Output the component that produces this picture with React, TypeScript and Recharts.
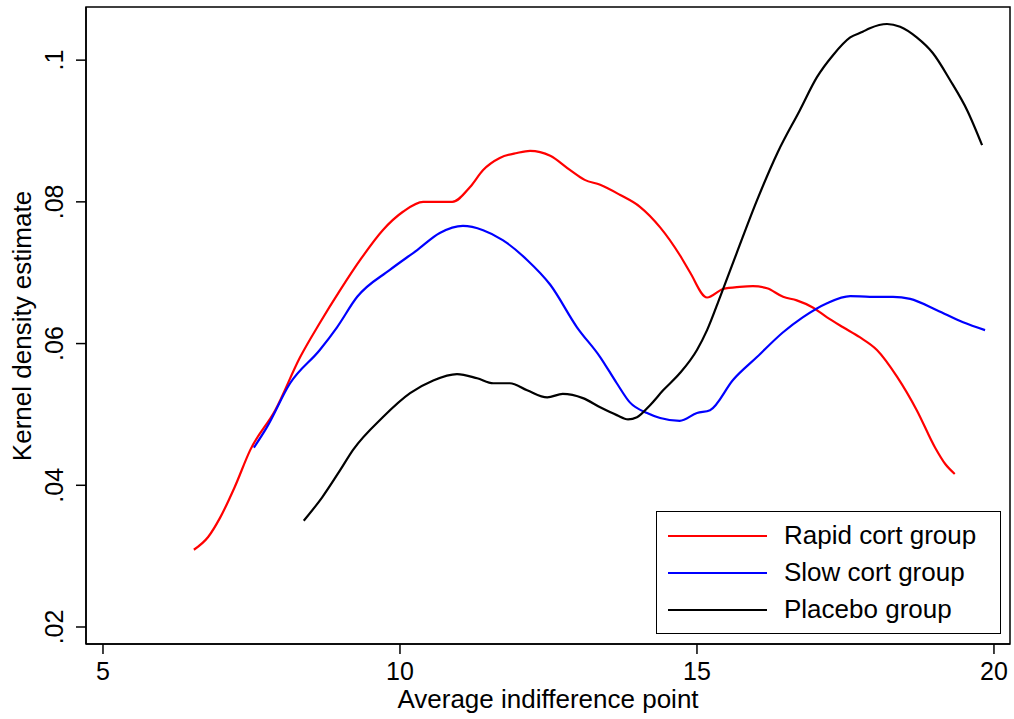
import React from 'react';
import { LineChart, Line, XAxis, YAxis, ReferenceArea } from 'recharts';

// Kernel density estimates
const rapidX = [6.53, 6.77, 6.97, 7.22, 7.48, 7.9, 8.32, 8.65, 8.99, 9.33, 9.71, 10.05, 10.39, 10.72, 10.88, 11.18, 11.4, 11.68, 11.97, 12.19, 12.53, 12.86, 13.11, 13.37, 13.7, 14.04, 14.38, 14.71, 14.88, 15.17, 15.44, 15.72, 15.94, 16.18, 16.45, 16.68, 16.95, 17.19, 17.46, 17.74, 18.03, 18.37, 18.7, 19.01, 19.18, 19.34];
const rapidY = [0.0309, 0.0327, 0.0354, 0.0398, 0.045, 0.0506, 0.0581, 0.0629, 0.0675, 0.0718, 0.076, 0.0786, 0.08, 0.08, 0.08, 0.0821, 0.0845, 0.0862, 0.0869, 0.0872, 0.0865, 0.0845, 0.0831, 0.0824, 0.081, 0.0793, 0.0764, 0.0725, 0.0701, 0.0665, 0.0677, 0.068, 0.0681, 0.0678, 0.0666, 0.0661, 0.0651, 0.0637, 0.0623, 0.0609, 0.0591, 0.0553, 0.0506, 0.0453, 0.043, 0.0416];

const slowX = [7.54, 7.76, 8.15, 8.65, 8.94, 9.28, 9.83, 10.29, 10.67, 11.06, 11.4, 11.73, 12.14, 12.53, 12.98, 13.37, 13.65, 13.87, 14.16, 14.38, 14.71, 15.0, 15.22, 15.61, 16.01, 16.45, 16.78, 17.19, 17.58, 17.91, 18.3, 18.59, 19.04, 19.48, 19.85];
const slowY = [0.0453, 0.0482, 0.0544, 0.0591, 0.0623, 0.0666, 0.0704, 0.0732, 0.0756, 0.0766, 0.076, 0.0746, 0.0718, 0.0683, 0.0623, 0.0581, 0.0544, 0.0517, 0.0502, 0.0495, 0.0491, 0.0502, 0.0506, 0.0549, 0.0581, 0.0616, 0.0637, 0.0657, 0.0667, 0.0666, 0.0666, 0.0663, 0.0647, 0.063, 0.0619];

const placeboX = [8.38, 8.69, 8.99, 9.21, 9.71, 10.17, 10.56, 10.96, 11.3, 11.57, 11.85, 12.14, 12.48, 12.74, 13.08, 13.37, 13.65, 13.84, 13.99, 14.21, 14.43, 14.71, 15.0, 15.17, 15.39, 15.67, 16.01, 16.36, 16.73, 17.02, 17.29, 17.58, 17.79, 17.91, 18.2, 18.42, 18.7, 18.97, 19.26, 19.55, 19.8];
const placeboY = [0.035, 0.0383, 0.0421, 0.045, 0.0496, 0.053, 0.0548, 0.0557, 0.0551, 0.0544, 0.0544, 0.0534, 0.0524, 0.0529, 0.0523, 0.051, 0.0499, 0.0493, 0.0496, 0.0513, 0.0534, 0.0558, 0.0591, 0.0619, 0.0666, 0.0728, 0.0802, 0.087, 0.0929, 0.0976, 0.1007, 0.1032, 0.104, 0.1045, 0.1051, 0.1047, 0.1032, 0.101, 0.0972, 0.0929, 0.088];

const xTicks = [5, 10, 15, 20];
const yTicks = [0.02, 0.04, 0.06, 0.08, 0.1];

const seriesNames = ['Rapid cort group', 'Slow cort group', 'Placebo group'];
const seriesColors = ['#ff0000', '#0000ff', '#000000'];

const X_DOMAIN = [4.714, 20.27];
const Y_DOMAIN = [0.0176, 0.1075];

const toRows = (xs: number[], ys: number[]) => xs.map((x, i) => ({ x, y: ys[i] }));

const FONT = '"Liberation Sans", Arial, Helvetica, sans-serif';

const XTick = ({ x, payload }: any) => (
  <text x={x} y={680} textAnchor="middle" fontSize={25} fontFamily={FONT} fill="#000">
    {payload.value}
  </text>
);

const YTick = ({ y, payload }: any) => (
  <text
    transform={`translate(63, ${y}) rotate(-90)`}
    textAnchor="middle"
    fontSize={25}
    fontFamily={FONT}
    fill="#000"
  >
    {String(payload.value).replace(/^0/, '')}
  </text>
);

// legend box drawn over the plot, bottom right
const LegendBox = () => (
  <div
    style={{
      position: 'absolute',
      left: 656,
      top: 511,
      width: 343,
      height: 121,
      border: '1.5px solid #000',
      background: '#fff',
      fontFamily: FONT,
      fontSize: 26,
    }}
  >
    {seriesNames.map((name, i) => (
      <div key={name} style={{ display: 'flex', alignItems: 'center', height: 37, marginTop: i === 0 ? 5 : 0 }}>
        <div style={{ width: 99, height: 2, background: seriesColors[i], marginLeft: 11, marginRight: 17 }} />
        <span>{name}</span>
      </div>
    ))}
  </div>
);

export default function App() {
  const lines = [toRows(rapidX, rapidY), toRows(slowX, slowY), toRows(placeboX, placeboY)];
  return (
    <div style={{ position: 'absolute', left: 0, top: 0, width: 1014, height: 719, background: '#fff' }}>
      <LineChart width={1014} height={719} margin={{ top: 7, right: 4, bottom: 0, left: 0 }}>
        <XAxis
          dataKey="x"
          type="number"
          domain={X_DOMAIN}
          ticks={xTicks}
          allowDataOverflow
          height={75}
          tickSize={10}
          stroke="#000"
          strokeWidth={1.5}
          tick={<XTick />}
          label={{
            content: () => (
              <text x={548} y={708} textAnchor="middle" fontSize={26} fontFamily={FONT} fill="#000">
                Average indifference point
              </text>
            ),
          }}
        />
        <YAxis
          type="number"
          domain={Y_DOMAIN}
          ticks={yTicks}
          allowDataOverflow
          width={86}
          tickSize={10}
          stroke="#000"
          strokeWidth={1.5}
          tick={<YTick />}
          label={{
            content: () => (
              <text
                transform="translate(31, 326) rotate(-90)"
                textAnchor="middle"
                fontSize={26}
                fontFamily={FONT}
                fill="#000"
              >
                Kernel density estimate
              </text>
            ),
          }}
        />
        {/* plot region frame */}
        <ReferenceArea
          x1={X_DOMAIN[0]}
          x2={X_DOMAIN[1]}
          y1={Y_DOMAIN[0]}
          y2={Y_DOMAIN[1]}
          fill="none"
          fillOpacity={0}
          stroke="#000"
          strokeWidth={1.5}
          ifOverflow="visible"
        />
        {lines.map((rows, i) => (
          <Line
            key={seriesNames[i]}
            data={rows}
            dataKey="y"
            name={seriesNames[i]}
            type="monotone"
            stroke={seriesColors[i]}
            strokeWidth={2.2}
            dot={false}
            activeDot={false}
            isAnimationActive={false}
          />
        ))}
      </LineChart>
      <LegendBox />
    </div>
  );
}
